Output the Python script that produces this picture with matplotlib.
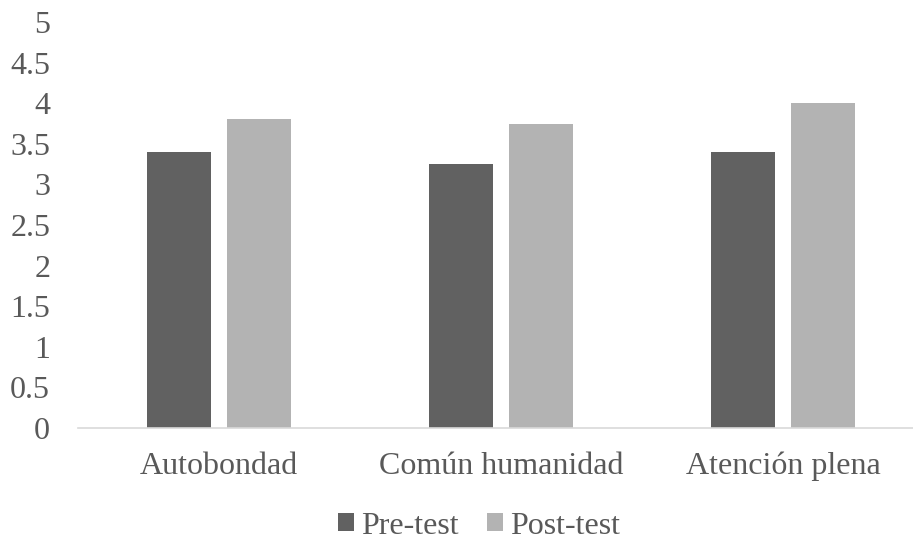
import numpy as np
import matplotlib.pyplot as plt

# Puntuaciones medias por dimensión
categorias = ['Autobondad', 'Común humanidad', 'Atención plena']
pre_test = [3.4, 3.25, 3.4]
post_test = [3.8, 3.75, 4.0]
y_ticks = [0, 0.5, 1, 1.5, 2, 2.5, 3, 3.5, 4, 4.5, 5]

plt.rcParams['font.family'] = ['Liberation Serif', 'DejaVu Serif']
texto = '#595959'

fig = plt.figure(figsize=(9.13, 5.4), dpi=100)
# el área de trazado sobresale un poco por la derecha
ax = fig.add_axes([78 / 913, 112 / 540, 846 / 913, 406 / 540])

x = np.arange(len(categorias))
ancho = 0.227
sep = 0.0284
ax.bar(x - ancho / 2 - sep, pre_test, ancho, color='#616161', label='Pre-test')
ax.bar(x + ancho / 2 + sep, post_test, ancho, color='#b3b3b3', label='Post-test')

ax.set_xlim(-0.5, len(categorias) - 0.5)
ax.set_ylim(0, 5)
ax.set_yticks(y_ticks)
ax.set_yticklabels([f'{v:g}' for v in y_ticks])
ax.set_xticks(x)
ax.set_xticklabels(categorias)

for s in ['top', 'right', 'left']:
    ax.spines[s].set_visible(False)
ax.spines['bottom'].set_color('#d9d9d9')
ax.spines['bottom'].set_linewidth(1.2)
ax.tick_params(axis='both', length=0, colors=texto, labelsize=23)
ax.tick_params(axis='y', pad=20)
ax.tick_params(axis='x', pad=17)

fig.legend(loc='center', bbox_to_anchor=(479 / 913, 1 - 526 / 540), ncol=2,
           frameon=False, fontsize=23, labelcolor=texto, handlelength=0.5,
           handleheight=0.5, handletextpad=0.22, columnspacing=0.9,
           borderpad=0, borderaxespad=0)

fig.savefig('out.png', dpi=100)
